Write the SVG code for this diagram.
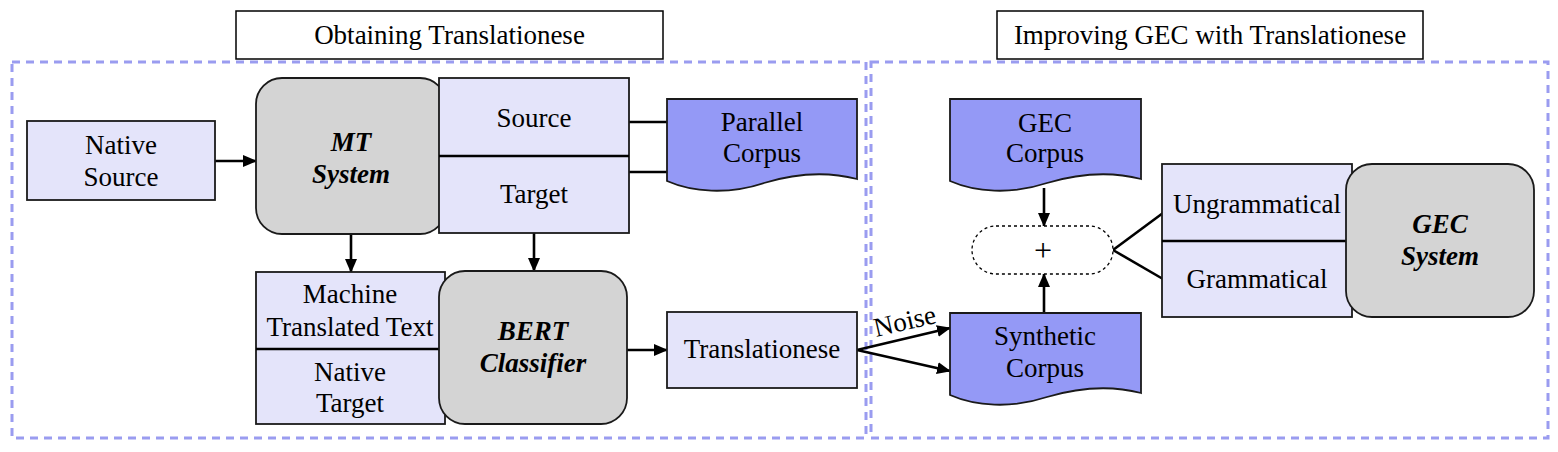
<svg xmlns="http://www.w3.org/2000/svg" width="1558" height="452" viewBox="0 0 1558 452">
<defs>
<style>
.title{fill:#fff;stroke:#000;stroke-width:1.5}
.frame{fill:none;stroke:#9a9cf0;stroke-width:3;stroke-dasharray:8 6}
.box{fill:#e4e4fa;stroke:#1a1a1a;stroke-width:1.8}
.sys{fill:#d4d4d4;stroke:#1a1a1a;stroke-width:1.8}
.doc{fill:#9499f6;stroke:#1a1a1a;stroke-width:1.8}
.ln{fill:none;stroke:#000;stroke-width:2.6}
.arr{fill:none;stroke:#000;stroke-width:2.6;marker-end:url(#ah)}
.dot{fill:#fff;stroke:#000;stroke-width:1.3;stroke-dasharray:3 3}
</style>
<marker id="ah" markerUnits="userSpaceOnUse" markerWidth="14" markerHeight="12" refX="13" refY="6" orient="auto">
<path d="M0,0 L14,6 L0,12 Z" fill="#000"/>
</marker>
</defs>

<g id="frames">
<rect class="frame" x="12" y="62" width="854" height="376"/>
<rect class="frame" x="871" y="62" width="677" height="376"/>
</g>

<g id="title-obtaining">
<rect class="title" x="236" y="11" width="427" height="48"/>
<text x="449.5" y="44" font-family="Liberation Serif" font-size="27" text-anchor="middle">Obtaining Translationese</text>
</g>
<g id="title-improving">
<rect class="title" x="997" y="11" width="426" height="48"/>
<text x="1210" y="44" font-family="Liberation Serif" font-size="27" text-anchor="middle">Improving GEC with Translationese</text>
</g>

<g id="connectors">
<line class="arr" x1="215" y1="161" x2="256" y2="161"/>
<line class="ln" x1="629" y1="122" x2="667" y2="122"/>
<line class="ln" x1="629" y1="172" x2="667" y2="172"/>
<line class="arr" x1="351" y1="234" x2="351" y2="272"/>
<line class="arr" x1="534" y1="233" x2="534" y2="271"/>
<line class="arr" x1="627" y1="350" x2="667" y2="350"/>
<line class="arr" x1="857" y1="350" x2="950" y2="328"/>
<line class="arr" x1="857" y1="350" x2="950" y2="371"/>
<line class="arr" x1="1044" y1="188" x2="1044" y2="226"/>
<line class="arr" x1="1044" y1="313" x2="1044" y2="274"/>
<line class="ln" x1="1113" y1="250" x2="1163" y2="213"/>
<line class="ln" x1="1113" y1="250" x2="1163" y2="279"/>
<text x="905" y="330" transform="rotate(-13 905 322)" font-family="Liberation Serif" font-size="27" text-anchor="middle">Noise</text>
</g>

<g id="native-source">
<rect class="box" x="27" y="121" width="188" height="79"/>
<text x="121" y="154" font-family="Liberation Serif" font-size="27" text-anchor="middle">Native</text>
<text x="121" y="186" font-family="Liberation Serif" font-size="27" text-anchor="middle">Source</text>
</g>

<g id="mt-system">
<rect class="sys" x="256" y="78" width="190" height="156" rx="26"/>
<text x="351" y="151" font-family="Liberation Serif" font-size="27" font-weight="bold" font-style="italic" text-anchor="middle">MT</text>
<text x="351" y="183" font-family="Liberation Serif" font-size="27" font-weight="bold" font-style="italic" text-anchor="middle">System</text>
</g>

<g id="source-target">
<rect class="box" x="439" y="78" width="190" height="155"/>
<line class="ln" x1="439" y1="156" x2="629" y2="156" stroke-width="2"/>
<text x="534" y="127" font-family="Liberation Serif" font-size="27" text-anchor="middle">Source</text>
<text x="534" y="203" font-family="Liberation Serif" font-size="27" text-anchor="middle">Target</text>
</g>

<g id="parallel-corpus">
<path class="doc" d="M667,99 H857 V179 C830,172 800,172 764,183 C728,195 692,192 667,181 Z"/>
<text x="762" y="131" font-family="Liberation Serif" font-size="27" text-anchor="middle">Parallel</text>
<text x="762" y="162" font-family="Liberation Serif" font-size="27" text-anchor="middle">Corpus</text>
</g>

<g id="mt-native-text">
<rect class="box" x="256" y="272" width="189" height="152"/>
<line class="ln" x1="256" y1="349" x2="445" y2="349" stroke-width="2"/>
<text x="350" y="303" font-family="Liberation Serif" font-size="27" text-anchor="middle">Machine</text>
<text x="350" y="336" font-family="Liberation Serif" font-size="27" text-anchor="middle">Translated Text</text>
<text x="350" y="381" font-family="Liberation Serif" font-size="27" text-anchor="middle">Native</text>
<text x="350" y="412" font-family="Liberation Serif" font-size="27" text-anchor="middle">Target</text>
</g>

<g id="bert-classifier">
<rect class="sys" x="439" y="271" width="188" height="153" rx="26"/>
<text x="533" y="340" font-family="Liberation Serif" font-size="27" font-weight="bold" font-style="italic" text-anchor="middle">BERT</text>
<text x="533" y="372" font-family="Liberation Serif" font-size="27" font-weight="bold" font-style="italic" text-anchor="middle">Classifier</text>
</g>

<g id="translationese">
<rect class="box" x="667" y="312" width="190" height="76"/>
<text x="762" y="358" font-family="Liberation Serif" font-size="27" text-anchor="middle">Translationese</text>
</g>

<g id="gec-corpus">
<path class="doc" d="M950,99 H1141 V179 C1114,172 1084,172 1047,183 C1011,195 975,192 950,181 Z"/>
<text x="1045" y="132" font-family="Liberation Serif" font-size="27" text-anchor="middle">GEC</text>
<text x="1045" y="162" font-family="Liberation Serif" font-size="27" text-anchor="middle">Corpus</text>
</g>

<g id="synthetic-corpus">
<path class="doc" d="M950,313 H1141 V393 C1114,386 1084,386 1047,397 C1011,409 975,406 950,395 Z"/>
<text x="1045" y="345" font-family="Liberation Serif" font-size="27" text-anchor="middle">Synthetic</text>
<text x="1045" y="377" font-family="Liberation Serif" font-size="27" text-anchor="middle">Corpus</text>
</g>

<g id="plus">
<rect class="dot" x="972" y="226" width="141" height="48" rx="24"/>
<text x="1043" y="261" font-family="Liberation Serif" font-size="32" text-anchor="middle">+</text>
</g>

<g id="ungram-gram">
<rect class="box" x="1162" y="164" width="190" height="153"/>
<line class="ln" x1="1162" y1="241" x2="1352" y2="241" stroke-width="2"/>
<text x="1257" y="213" font-family="Liberation Serif" font-size="27" text-anchor="middle">Ungrammatical</text>
<text x="1257" y="288" font-family="Liberation Serif" font-size="27" text-anchor="middle">Grammatical</text>
</g>

<g id="gec-system">
<rect class="sys" x="1346" y="164" width="188" height="153" rx="26"/>
<text x="1440" y="233" font-family="Liberation Serif" font-size="27" font-weight="bold" font-style="italic" text-anchor="middle">GEC</text>
<text x="1440" y="265" font-family="Liberation Serif" font-size="27" font-weight="bold" font-style="italic" text-anchor="middle">System</text>
</g>
</svg>
